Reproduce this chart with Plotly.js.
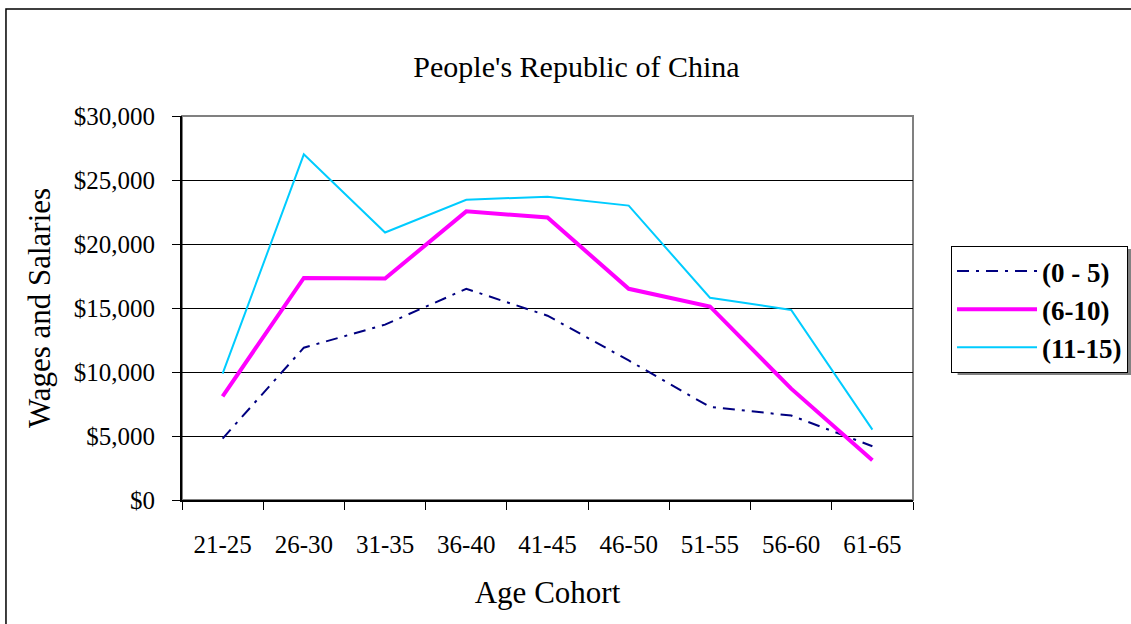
<!DOCTYPE html>
<html>
<head>
<meta charset="utf-8">
<script src="https://cdn.plot.ly/plotly-3.0.1.min.js"></script>
<style>
html,body{margin:0;padding:0;background:#fff;}
#chart{width:1131px;height:624px;}
</style>
</head>
<body>
<div id="chart"></div>
<script>
var categories = ["21-25","26-30","31-35","36-40","41-45","46-50","51-55","56-60","61-65"];
var seriesNames = ["(0 - 5)","(6-10)","(11-15)"];
var years0to5   = [4800, 11900, 13700, 16500, 14400, 10900, 7270, 6600, 4200];
var years6to10  = [8100, 17350, 17300, 22550, 22070, 16500, 15120, 8700, 3100];
var years11to15 = [9870, 27000, 20900, 23450, 23700, 23000, 15800, 14850, 5500];
var yTickVals = [0, 5000, 10000, 15000, 20000, 25000, 30000];
var yTickText = ["$0","$5,000","$10,000","$15,000","$20,000","$25,000","$30,000"];

var serif = "Liberation Serif, Times New Roman, serif";

var traces = [
  {x: categories, y: years0to5, name: seriesNames[0], legendgroup: "g1", type: "scatter", mode: "lines",
   line: {color: "#000080", width: 2, dash: "12px,7px,3px,7px"}},
  {x: categories, y: years6to10, name: seriesNames[1], legendgroup: "g2", type: "scatter", mode: "lines",
   line: {color: "#FF00FF", width: 4}},
  {x: categories, y: years11to15, name: seriesNames[2], legendgroup: "g3", type: "scatter", mode: "lines",
   line: {color: "#00CCFF", width: 2}}
];

var layout = {
  width: 1131, height: 624,
  margin: {l: 182, r: 218, t: 116, b: 124, pad: 0, autoexpand: false},
  paper_bgcolor: "#fff", plot_bgcolor: "#fff",
  font: {family: serif, color: "#000", size: 25},
  title: {text: "People's Republic of China", font: {family: serif, size: 30, color: "#000"},
          x: 0.5097, xanchor: "center", y: 0.894, yanchor: "middle"},
  xaxis: {
    type: "category", categoryorder: "array", categoryarray: categories,
    range: [-0.5, 8.5], tickson: "boundaries",
    ticks: "outside", ticklen: 8, tickwidth: 1, tickcolor: "#000",
    showline: true, linecolor: "#000", linewidth: 2,
    showgrid: false, zeroline: false,
    tickfont: {family: serif, size: 25, color: "#000"},
    ticklabelstandoff: 21,
    title: {text: "Age Cohort", font: {family: serif, size: 31, color: "#000"}, standoff: 24},
    fixedrange: true
  },
  xaxis2: {
    overlaying: "x", anchor: "y", type: "linear", range: [-0.5, 8.5],
    tick0: -0.5, dtick: 1, ticks: "inside", ticklen: 8, tickwidth: 1, tickcolor: "#000",
    showticklabels: false, showgrid: false, zeroline: false, showline: false
  },
  yaxis: {
    range: [0, 30000], tickvals: yTickVals, ticktext: yTickText,
    ticks: "outside", ticklen: 8, tickwidth: 1, tickcolor: "#000",
    showline: true, linecolor: "#000", linewidth: 2,
    showgrid: true, gridcolor: "#000", gridwidth: 1, zeroline: false,
    tickfont: {family: serif, size: 25, color: "#000"},
    ticklabelstandoff: 12,
    title: {text: "Wages and Salaries", font: {family: serif, size: 31, color: "#000"}, standoff: 14},
    fixedrange: true
  },
  showlegend: true,
  legend: {
    x: 1.052, y: 0.6615, xanchor: "left", yanchor: "top",
    bgcolor: "#fff", bordercolor: "#000", borderwidth: 1,
    font: {family: serif, size: 27, color: "#000", weight: "bold"},
    itemwidth: 80, tracegroupgap: 0
  },
  shapes: [
    {type: "rect", xref: "paper", yref: "paper", x0: 0, x1: 1, y0: 0, y1: 1,
     line: {color: "#808080", width: 2}, layer: "below"},
    {type: "rect", xref: "paper", yref: "paper", x0: -0.2408, x1: 1.6, y0: -0.6, y1: 1.2786,
     line: {color: "#000", width: 1.5}, fillcolor: "rgba(0,0,0,0)", layer: "below"},
    {type: "rect", xref: "paper", yref: "paper", x0: 1.061, x1: 1.2982, y0: 0.3255, y1: 0.6538,
     line: {width: 0}, fillcolor: "#808080", layer: "below"}
  ]
};

Plotly.newPlot("chart", traces, layout, {staticPlot: true, displayModeBar: false});
</script>
</body>
</html>
